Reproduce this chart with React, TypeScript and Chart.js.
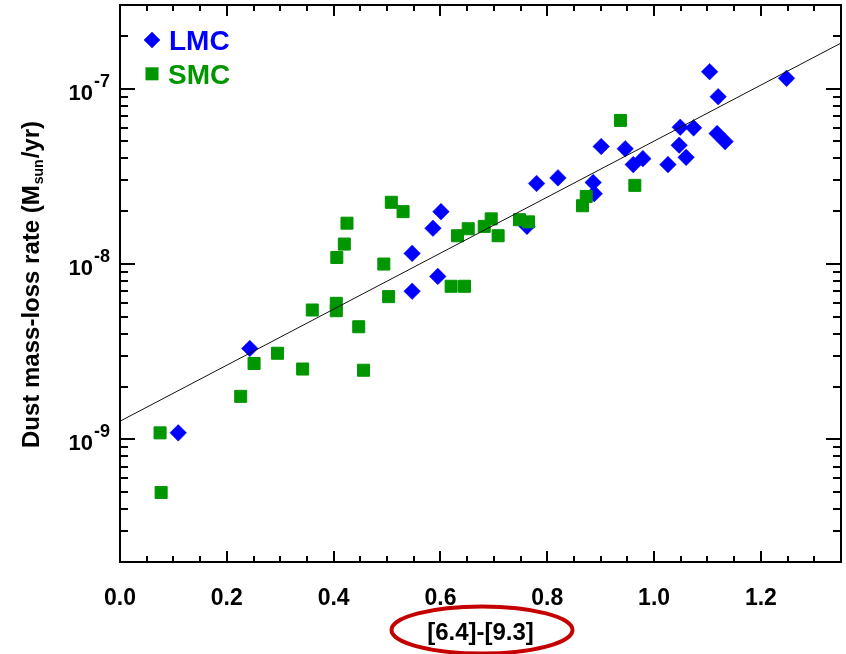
import React, { useEffect, useRef } from 'react';
import { Chart, registerables } from 'chart.js';

Chart.register(...registerables);

// ---- Data ----
const lmcX = [0.109, 0.243, 0.547, 0.547, 0.586, 0.601, 0.595, 0.762, 0.780, 0.820, 0.886, 0.888, 0.901, 0.946, 0.961, 0.979, 1.026, 1.047, 1.060, 1.049, 1.074, 1.104, 1.120, 1.118, 1.133, 1.248];
const lmcY = [1.09e-9, 3.30e-9, 1.15e-8, 7.0e-9, 1.60e-8, 1.99e-8, 8.5e-9, 1.64e-8, 2.88e-8, 3.10e-8, 2.92e-8, 2.52e-8, 4.68e-8, 4.54e-8, 3.69e-8, 3.99e-8, 3.69e-8, 4.76e-8, 4.06e-8, 6.03e-8, 5.98e-8, 1.25e-7, 9.0e-8, 5.55e-8, 4.99e-8, 1.145e-7];

const smcX = [0.075, 0.077, 0.226, 0.251, 0.295, 0.342, 0.360, 0.405, 0.405, 0.406, 0.420, 0.425, 0.447, 0.456, 0.494, 0.503, 0.508, 0.530, 0.620, 0.645, 0.632, 0.652, 0.682, 0.695, 0.708, 0.748, 0.765, 0.866, 0.873, 0.937, 0.964];
const smcY = [1.09e-9, 4.98e-10, 1.76e-9, 2.71e-9, 3.10e-9, 2.52e-9, 5.47e-9, 5.97e-9, 5.42e-9, 1.09e-8, 1.30e-8, 1.71e-8, 4.39e-9, 2.48e-9, 1.00e-8, 6.52e-9, 2.25e-8, 1.99e-8, 7.47e-9, 7.47e-9, 1.45e-8, 1.59e-8, 1.64e-8, 1.81e-8, 1.45e-8, 1.79e-8, 1.74e-8, 2.15e-8, 2.43e-8, 6.59e-8, 2.81e-8];

const fitX = [0, 1.35];
const fitY = [1.27e-9, 1.82e-7];

const xMin = 0;
const xMax = 1.35;
const yMin = 2e-10;
const yMax = 3e-7;

const xTicks = [0, 0.2, 0.4, 0.6, 0.8, 1.0, 1.2];
const xTickLabels = ['0.0', '0.2', '0.4', '0.6', '0.8', '1.0', '1.2'];
const xMinorStep = 0.05;
const yDecades = [1e-9, 1e-8, 1e-7];
const yDecadeExps = ['-9', '-8', '-7'];
const yMinorMantissas = [2, 3, 4, 5, 6, 7, 8, 9];

const seriesNames = ['LMC', 'SMC'];
const xTitle = '[6.4]-[9.3]';
const yTitleParts = ['Dust mass-loss rate (M', 'sun', '/yr)'];

const BLUE = '#0000ff';
const GREEN = '#009600';
const FONT = '"Liberation Sans", Arial, Helvetica, sans-serif';

const toPts = (xs: number[], ys: number[]) => xs.map((x, i) => ({ x, y: ys[i] }));

const decorPlugin = {
  id: 'decor',
  afterDraw(chart: any) {
    const { ctx, chartArea: a, scales } = chart;
    const xs = scales.x;
    const ys = scales.y;
    ctx.save();
    ctx.strokeStyle = '#000';
    ctx.lineWidth = 2;
    ctx.lineCap = 'butt';
    // frame
    ctx.strokeRect(a.left, a.top, a.right - a.left, a.bottom - a.top);
    const seg = (x1: number, y1: number, x2: number, y2: number) => {
      ctx.beginPath();
      ctx.moveTo(x1, y1);
      ctx.lineTo(x2, y2);
      ctx.stroke();
    };
    // x ticks (bottom & top, inward)
    const nx = Math.round((xMax - xMin) / xMinorStep);
    for (let i = 0; i <= nx; i++) {
      const v = xMin + i * xMinorStep;
      if (v > xMax + 1e-9) break;
      const px = Math.round(xs.getPixelForValue(v));
      const major = xTicks.some((t) => Math.abs(t - v) < 1e-6);
      const len = major ? 11 : 6;
      seg(px, a.bottom, px, a.bottom - len);
      seg(px, a.top, px, a.top + len);
    }
    // y ticks (left & right, inward)
    const decadesAll = [1e-10, ...yDecades];
    decadesAll.forEach((d) => {
      [1, ...yMinorMantissas].forEach((m) => {
        const v = m * d;
        if (v < yMin * 0.999 || v > yMax * 1.001) return;
        const py = Math.round(ys.getPixelForValue(v));
        const len = m === 1 ? 15 : 8;
        seg(a.left, py, a.left + len, py);
        seg(a.right, py, a.right - len, py);
      });
    });

    // y tick labels: 10^exp
    ctx.fillStyle = '#000';
    yDecades.forEach((d, i) => {
      const py = ys.getPixelForValue(d);
      const right = a.left - 10;
      ctx.font = `bold 18px ${FONT}`;
      ctx.textAlign = 'right';
      ctx.textBaseline = 'alphabetic';
      const sw = ctx.measureText(yDecadeExps[i]).width;
      ctx.fillText(yDecadeExps[i], right, py - 2);
      ctx.font = `bold 22px ${FONT}`;
      ctx.fillText('10', right - sw - 1, py + 11);
    });

    // y title (rotated, with subscript)
    ctx.save();
    ctx.translate(39, (a.top + a.bottom) / 2 + 1);
    ctx.rotate(-Math.PI / 2);
    ctx.textAlign = 'left';
    ctx.textBaseline = 'alphabetic';
    ctx.font = `bold 24px ${FONT}`;
    const w1 = ctx.measureText(yTitleParts[0]).width;
    const w3 = ctx.measureText(yTitleParts[2]).width;
    ctx.font = `bold 14px ${FONT}`;
    const w2 = ctx.measureText(yTitleParts[1]).width;
    let cx = -(w1 + w2 + w3 + 2) / 2;
    ctx.font = `bold 24px ${FONT}`;
    ctx.fillText(yTitleParts[0], cx, 0);
    cx += w1 + 1;
    ctx.font = `bold 14px ${FONT}`;
    ctx.fillText(yTitleParts[1], cx, 4);
    cx += w2 + 1;
    ctx.font = `bold 24px ${FONT}`;
    ctx.fillText(yTitleParts[2], cx, 0);
    ctx.restore();

    // x title
    const xc = (a.left + a.right) / 2;
    ctx.font = `bold 24px ${FONT}`;
    ctx.textAlign = 'center';
    ctx.textBaseline = 'alphabetic';
    ctx.fillStyle = '#000';
    ctx.fillText(xTitle, xc, 639.5);

    // red ellipse around x title
    ctx.beginPath();
    ctx.ellipse(xc + 1.5, 630, 90.5, 23.5, 0, 0, Math.PI * 2);
    ctx.strokeStyle = '#c40000';
    ctx.lineWidth = 4;
    ctx.stroke();

    // legend
    const lx = a.left + 32;
    ctx.fillStyle = BLUE;
    ctx.beginPath();
    ctx.moveTo(lx, a.top + 35 - 8.3);
    ctx.lineTo(lx + 8.3, a.top + 35);
    ctx.lineTo(lx, a.top + 35 + 8.3);
    ctx.lineTo(lx - 8.3, a.top + 35);
    ctx.closePath();
    ctx.fill();
    ctx.font = `bold 28px ${FONT}`;
    ctx.textAlign = 'left';
    ctx.textBaseline = 'alphabetic';
    ctx.fillText(seriesNames[0], lx + 17, a.top + 45);
    ctx.fillStyle = GREEN;
    ctx.fillRect(lx - 6.5, a.top + 68.8 - 6.5, 13, 13);
    ctx.fillText(seriesNames[1], lx + 16, a.top + 78.5);

    ctx.restore();
  },
};

export default function App() {
  const canvasRef = useRef<HTMLCanvasElement | null>(null);

  useEffect(() => {
    const canvas = canvasRef.current;
    if (!canvas) return;
    const chart = new Chart(canvas, {
      type: 'scatter',
      data: {
        datasets: [
          {
            label: 'fit',
            data: toPts(fitX, fitY),
            showLine: true,
            borderColor: '#111',
            borderWidth: 1,
            pointRadius: 0,
            pointHoverRadius: 0,
            fill: false,
          },
          {
            label: seriesNames[1],
            data: toPts(smcX, smcY),
            pointStyle: 'rect',
            pointRadius: 8.5,
            pointHoverRadius: 8.5,
            backgroundColor: GREEN,
            borderColor: GREEN,
            borderWidth: 1,
          },
          {
            label: seriesNames[0],
            data: toPts(lmcX, lmcY),
            pointStyle: 'rectRot',
            pointRadius: 8.3,
            pointHoverRadius: 8.3,
            backgroundColor: BLUE,
            borderColor: BLUE,
            borderWidth: 0.5,
          },
        ],
      },
      options: {
        responsive: false,
        animation: false,
        devicePixelRatio: 1,
        layout: { autoPadding: false, padding: { left: 0, top: 5, right: 5, bottom: 0 } },
        plugins: {
          legend: { display: false },
          tooltip: { enabled: false },
          title: { display: false },
        },
        events: [],
        scales: {
          x: {
            type: 'linear',
            min: xMin,
            max: xMax,
            grid: { display: false, drawTicks: false },
            border: { display: false },
            afterBuildTicks: (scale: any) => {
              scale.ticks = xTicks.map((v) => ({ value: v }));
            },
            afterFit: (scale: any) => {
              scale.height = 92;
            },
            ticks: {
              padding: 23,
              maxRotation: 0,
              autoSkip: false,
              color: '#000',
              font: { family: FONT, size: 23, weight: 'bold' },
              callback: (v: any) => {
                const idx = xTicks.findIndex((t) => Math.abs(t - Number(v)) < 1e-6);
                return idx >= 0 ? xTickLabels[idx] : '';
              },
            },
          },
          y: {
            type: 'logarithmic',
            min: yMin,
            max: yMax,
            grid: { display: false, drawTicks: false },
            border: { display: false },
            ticks: { display: false },
            afterFit: (scale: any) => {
              scale.width = 120;
            },
          },
        },
      } as any,
      plugins: [decorPlugin],
    });
    return () => chart.destroy();
  }, []);

  return (
    <div style={{ position: 'fixed', left: 0, top: 0, width: 846, height: 654, background: '#fff' }}>
      <canvas ref={canvasRef} width={846} height={654} style={{ display: 'block' }} />
    </div>
  );
}
